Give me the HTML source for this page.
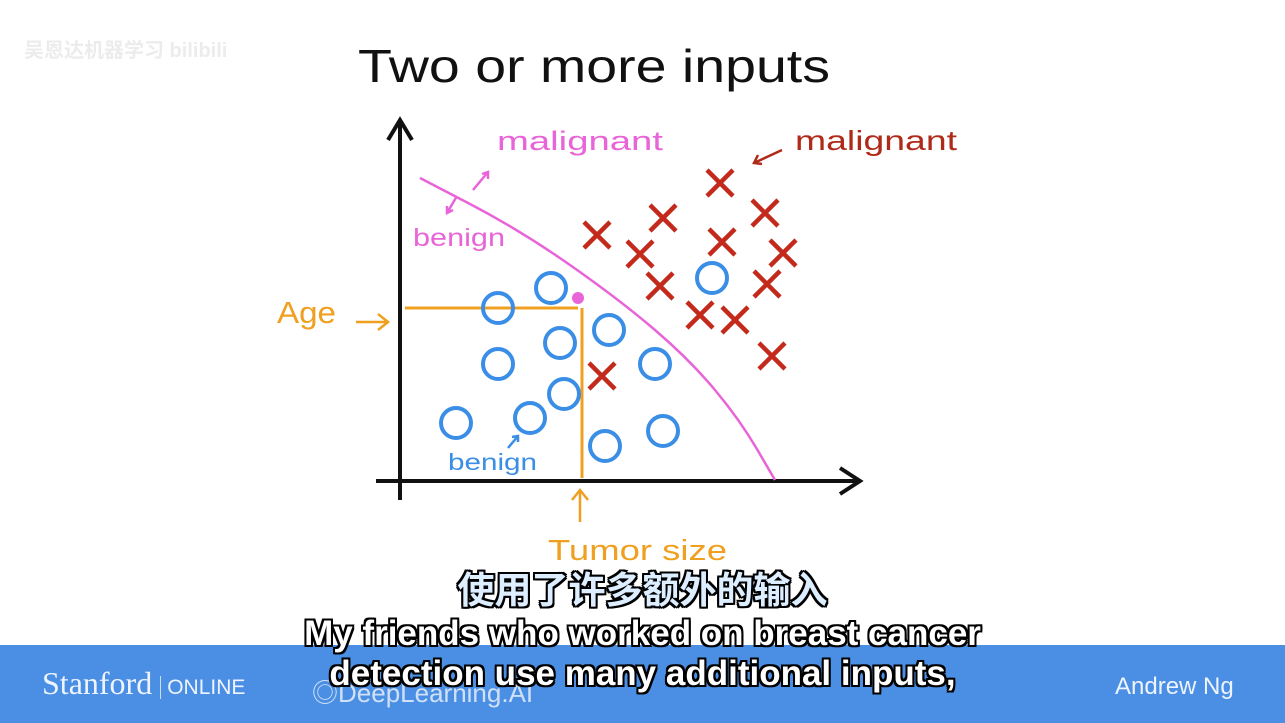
<!DOCTYPE html>
<html><head><meta charset="utf-8"><style>
body{margin:0;width:1285px;height:723px;background:#fff;overflow:hidden;position:relative;font-family:"Liberation Sans","Noto Sans CJK SC",sans-serif}
.bar{position:absolute;left:0;top:645px;width:1285px;height:78px;background:#4a8fe3}
.sub{position:absolute;left:0;width:1285px;text-align:center;font-weight:bold;color:#fff;text-shadow:-2px -2px 0 #000,2px -2px 0 #000,-2px 2px 0 #000,2px 2px 0 #000,0 2px 0 #000,0 -2px 0 #000,2px 0 0 #000,-2px 0 0 #000}
</style></head><body>
<div class="bar">
<span style="position:absolute;left:42px;top:20px;font-family:'Liberation Serif',serif;font-size:32px;color:#eef4ff">Stanford <span style="font-family:'Liberation Sans';font-size:21px;border-left:1px solid #cde;padding-left:6px">ONLINE</span></span>
<span style="position:absolute;left:312px;top:28px;font-size:26px;color:#cfe0f8">◎DeepLearning.AI</span>
<span style="position:absolute;left:1115px;top:28px;font-size:24px;color:#eef4ff">Andrew Ng</span>
</div>
<div style="position:absolute;left:24px;top:34px;font-size:20px;color:#ececec;font-weight:bold">吴恩达机器学习 bilibili</div>
<svg width="1285" height="723" style="position:absolute;left:0;top:0">
<text x="358" y="82" font-size="46" fill="#111" textLength="472" lengthAdjust="spacingAndGlyphs">Two or more inputs</text>
<g id="g"></g>
</svg>
<div class="sub" style="top:560px;font-size:37px;color:#dceeff">使用了许多额外的输入</div>
<div class="sub" style="top:614px;font-size:35px;line-height:40px">My friends who worked on breast cancer<br>detection use many additional inputs,</div>
<script>
const circleX=[9.8,15.1,20.9,16,9.8,25.5,16.4,5.6,13,20.5,26.3,31.2];
const circleY=[17.2,19.2,15,13.7,11.6,11.6,8.6,5.7,6.2,3.4,4.9,20.2];
const crossX=[19.7,26.3,32,36.5,24,32.2,38.3,26,36.7,30,33.5,37.2,20.2];
const crossY=[24.5,26.2,29.7,26.7,22.6,23.8,22.7,19.4,19.6,16.5,16,12.4,10.4];
const boundaryX=[2,12,22,29,34,37.5];
const boundaryY=[30.2,25,18,12,6,0];
const queryX=[17.8];const queryY=[17.2];
const sx=v=>400+v*10, sy=v=>480-v*10;
const NS="http://www.w3.org/2000/svg", g=document.getElementById('g');
function mk(t,a){const e=document.createElementNS(NS,t);for(const k in a)e.setAttribute(k,a[k]);g.appendChild(e);return e;}
let e;
e=mk('path',{d:'M400,500 L400,122 M388,140 L400,120 L412,140',stroke:'#111','stroke-width':4,fill:'none'});


e=mk('path',{d:'M376,481 L858,481 M840,468 L860,481 L840,494',stroke:'#111','stroke-width':4,fill:'none'});


let d='M'+sx(boundaryX[0])+','+sy(boundaryY[0]);
for(let i=1;i<boundaryX.length;i++){const mx=(sx(boundaryX[i-1])+sx(boundaryX[i]))/2,my=(sy(boundaryY[i-1])+sy(boundaryY[i]))/2;d+=' Q'+sx(boundaryX[i-1])+','+sy(boundaryY[i-1])+' '+mx+','+my;}
d+=' L'+sx(boundaryX[boundaryX.length-1])+','+sy(boundaryY[boundaryY.length-1]);
e=mk('path',{d:d,stroke:'#e864d8','stroke-width':2.5,fill:'none'});


e=mk('path',{d:'M405,'+sy(queryY[0])+' L'+sx(queryX[0])+','+sy(queryY[0])+' M'+(sx(queryX[0])+4)+','+sy(queryY[0])+' L'+(sx(queryX[0])+4)+',478',stroke:'#f0a020','stroke-width':3,fill:'none'});


circleX.forEach((x,i)=>{e=mk('circle',{cx:sx(x),cy:sy(circleY[i]),r:15,stroke:'#3a8ee6','stroke-width':4,fill:'none'});

});
crossX.forEach((x,i)=>{const cx=sx(x),cy=sy(crossY[i]);e=mk('path',{d:`M${cx-13},${cy-13}L${cx+13},${cy+13}M${cx+13},${cy-13}L${cx-13},${cy+13}`,stroke:'#c42a1c','stroke-width':4.5,fill:'none'});

});
e=mk('circle',{cx:sx(queryX[0]),cy:sy(queryY[0])-10,r:6,fill:'#e864d8'});


function tx(x,y,s,c,f,w,n){const t=mk('text',{x:x,y:y,fill:c,'font-size':f,textLength:w,lengthAdjust:'spacingAndGlyphs'});t.textContent=s;}
tx(497,150,'malignant','#e864d8',27,166,'boundary-label-malignant');
tx(413,246,'benign','#e864d8',25,92,'boundary-label-benign');
tx(795,150,'malignant','#b02a1a',28,162,'malignant-label');
tx(448,470,'benign','#3a8ee6',23,89,'benign-label');
tx(277,323,'Age','#f0a020',31,59,'y-axis-title');
tx(548,560,'Tumor size','#f0a020',29,179,'x-axis-title');
e=mk('path',{d:'M473,190 L488,172 M482,174 L488,172 L488,179 M457,196 L447,213 M447,206 L447,213 L453,210',stroke:'#e864d8','stroke-width':2.5,fill:'none'});


e=mk('path',{d:'M782,150 L754,163 M758,155 L754,163 L762,164',stroke:'#b02a1a','stroke-width':2.5,fill:'none'});


e=mk('path',{d:'M356,322 L386,322 M378,314 L388,322 L378,330 M580,522 L580,492 M572,500 L580,490 L588,500',stroke:'#f0a020','stroke-width':2.5,fill:'none'});


e=mk('path',{d:'M508,448 L518,436 M512,437 L518,436 L518,442',stroke:'#3a8ee6','stroke-width':2.5,fill:'none'});


</script>
</body></html>
